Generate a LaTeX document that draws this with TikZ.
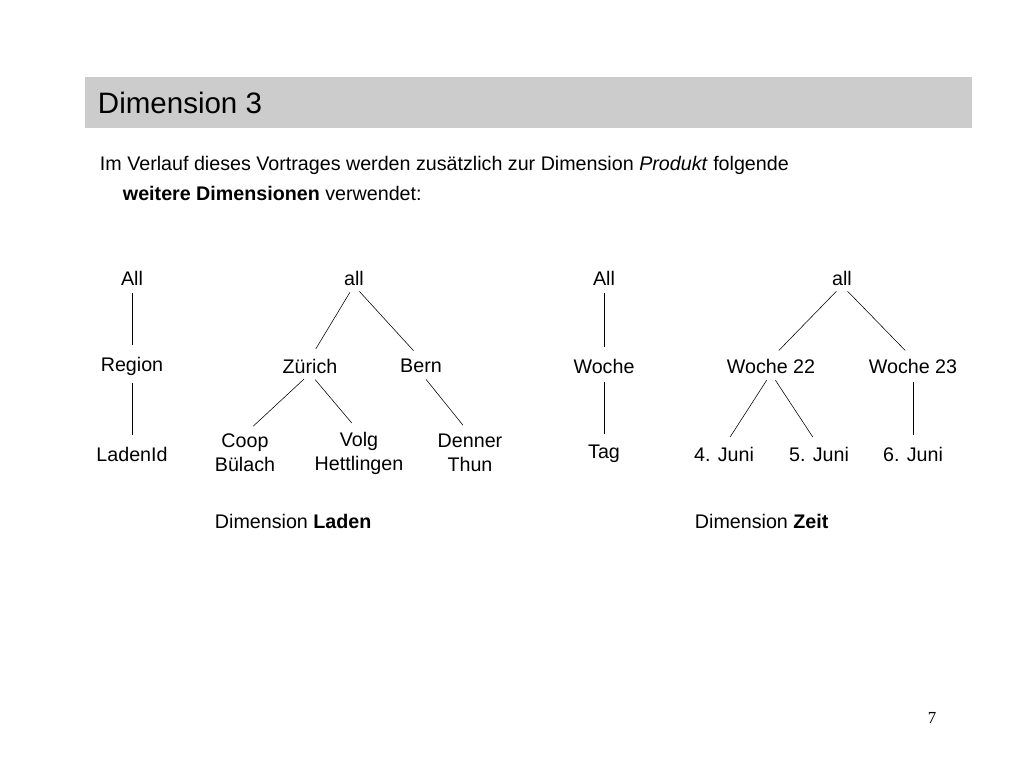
\documentclass[tikz,border=0pt]{standalone}
\usepackage{fontspec}
\setmainfont{Liberation Sans}
\newfontfamily\pagefont{Liberation Serif}
\usetikzlibrary{positioning}

\begin{document}
\begin{tikzpicture}[x=0.25mm,y=-0.25mm,font=\fontsize{14}{17}\selectfont]
\tikzset{level/.style={inner sep=0pt,align=center},
         link/.style={draw,thin,shorten <=2mm,shorten >=2.8mm}}
\useasboundingbox (0,0) rectangle (1024,768);
% title bar
\fill[black!20] (85,77) rectangle (972,128);
\node[anchor=west,font=\fontsize{21}{25}\selectfont] (title) at (93,103) {Dimension 3};
\node[anchor=west] (intro1) at (95,165) {Im Verlauf dieses Vortrages werden zus\"atzlich zur Dimension \textit{Produkt} folgende};
\node[anchor=west] (intro2) at (118,193) {\textbf{weitere Dimensionen} verwendet:};
% Laden
\node[level] (lAll) at (132,278) {All};
\node[level] (lReg) at (132,366) {Region};
\node[level] (lId) at (132,454) {LadenId};
\node[level] (lall) at (354,278) {all};
\node[level] (zh) at (310,366) {Z\"urich};
\node[level] (be) at (421,366) {Bern};
\node[level] (coop) at (245,453) {Coop\\B\"ulach};
\node[level] (volg) at (359,453) {Volg\\Hettlingen};
\node[level] (denner) at (470,453) {Denner\\Thun};
\node[anchor=west] (dimL) at (210,521) {Dimension \textbf{Laden}};
% Zeit
\node[level] (zAll) at (604,278) {All};
\node[level] (woche) at (604,366) {Woche};
\node[level] (tag) at (604,454) {Tag};
\node[level] (zall) at (842,278) {all};
\node[level] (w22) at (771,366) {Woche 22};
\node[level] (w23) at (913,366) {Woche 23};
\node[level] (j4) at (724,454) {4. Juni};
\node[level] (j5) at (819,454) {5. Juni};
\node[level] (j6) at (913,454) {6. Juni};
\node[anchor=west] (dimZ) at (690,521) {Dimension \textbf{Zeit}};
\node[font=\pagefont\fontsize{12}{14}\selectfont] (page) at (932,718) {7};
% links
\path[link] (lAll.south) -- (lReg.north);
\path[link] (lReg.south) -- (lId.north);
\path[link] (lall.south) -- (zh.north);
\path[link] (lall.south) -- (be.north);
\path[link] (zh.south) -- (coop.north);
\path[link] (zh.south) -- (volg.north);
\path[link] (be.south) -- (denner.north);
\path[link] (zAll.south) -- (woche.north);
\path[link] (woche.south) -- (tag.north);
\path[link] (zall.south) -- (w22.north);
\path[link] (zall.south) -- (w23.north);
\path[link] (w22.south) -- (j4.north);
\path[link] (w22.south) -- (j5.north);
\path[link] (w23.south) -- (j6.north);
\end{tikzpicture}
\end{document}
